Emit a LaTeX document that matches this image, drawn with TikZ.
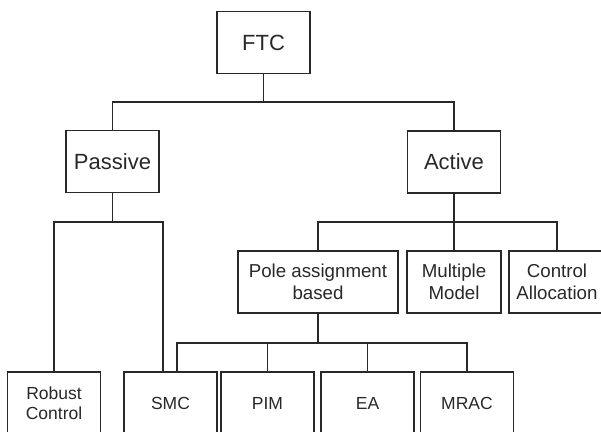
\documentclass[tikz,border=0pt]{standalone}
\usepackage{fontspec}
\setmainfont{Liberation Sans}
\usepackage{tikz}
\usetikzlibrary{calc}
\definecolor{lineclr}{RGB}{40, 40, 40}

\begin{document}
\begin{tikzpicture}[x=1pt, y=-1pt,
    box/.style={rectangle, draw=lineclr, line width=1.5pt, inner sep=0pt, align=center, text=lineclr},
    topbox/.style={box, minimum width=93pt, minimum height=62pt, font=\fontsize{22}{26}\selectfont},
    midbox/.style={box, minimum height=62pt, font=\fontsize{18.7}{22}\selectfont},
    lowbox/.style={box, minimum width=93pt, minimum height=62pt, font=\fontsize{17.5}{20}\selectfont},
    link/.style={draw=lineclr, line width=1.5pt}]
    \clip (0,0) rectangle (601,431);

    % root
    \node[topbox] (ftc) at (263.5, 42.5) {FTC};

    % first level
    \node[topbox] (passive) at (112.5, 161.5) {Passive};
    \node[topbox] (active) at (454, 162) {Active};
    \coordinate (ftcbus) at (263.5, 102);
    \draw[link] (ftc.south) -- (ftcbus);
    \draw[link] (passive.north) |- (ftcbus);
    \draw[link] (active.north) |- (ftcbus);

    % second level (active)
    \node[midbox, minimum width=160pt] (pole) at (318, 282) {Pole assignment\\based};
    \node[midbox, minimum width=94pt] (multi) at (454, 282) {Multiple\\Model};
    \node[midbox, minimum width=96pt] (alloc) at (557, 282) {Control\\Allocation};
    \coordinate (actbus) at (454, 222);
    \draw[link] (active.south) -- (multi.north);
    \draw[link] (pole.north) |- (actbus);
    \draw[link] (alloc.north) |- (actbus);

    % bottom level
    \node[lowbox] (robust) at (54, 403) {Robust\\Control};
    \node[lowbox] (smc) at (170.5, 403) {SMC};
    \node[lowbox] (pim) at (267.5, 403) {PIM};
    \node[lowbox] (ea) at (367.5, 403) {EA};
    \node[lowbox] (mrac) at (467, 403) {MRAC};

    % passive branches
    \coordinate (pasbus) at (112.5, 222);
    \draw[link] (passive.south) -- (pasbus);
    \draw[link] (robust.north) |- (pasbus);
    \draw[link] ($(smc.north)+(-7.5,0)$) |- (pasbus);

    % pole assignment branches
    \coordinate (polebus) at (318, 343);
    \draw[link] (pole.south) -- (polebus);
    \draw[link] ($(smc.north)+(6.5,0)$) |- (polebus);
    \draw[link] (pim.north) |- (polebus);
    \draw[link] (ea.north) |- (polebus);
    \draw[link] (mrac.north) |- (polebus);
\end{tikzpicture}
\end{document}
